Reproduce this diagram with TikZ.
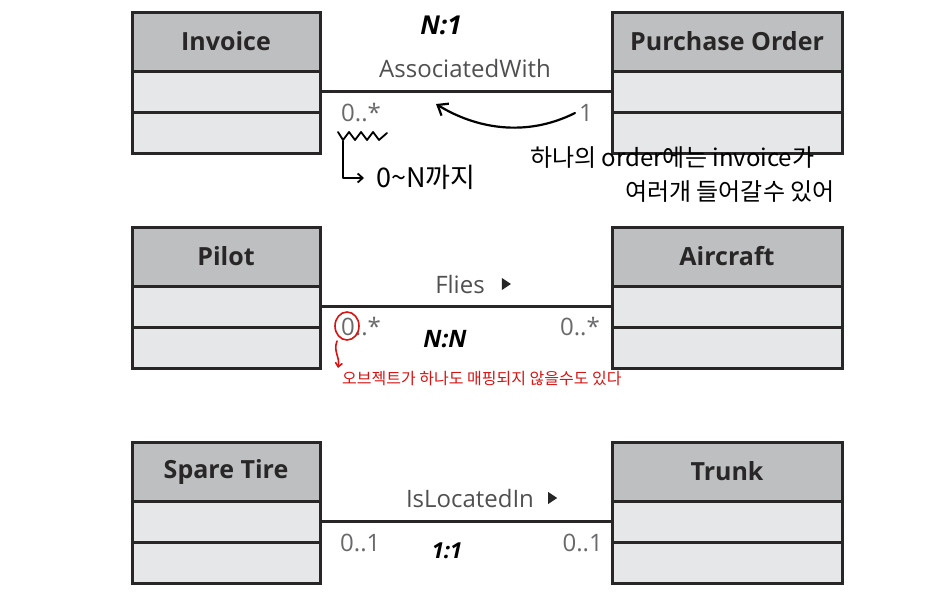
\documentclass[tikz,border=0pt]{standalone}
\usepackage{fontspec}
\setmainfont{Open Sans}
\newfontfamily\kor{Noto Sans CJK KR}
\usetikzlibrary{arrows.meta}
\definecolor{hdrfill}{RGB}{190,191,193}
\definecolor{cmpfill}{RGB}{230,231,232}
\definecolor{border}{RGB}{40,38,39}
\definecolor{lblgray}{RGB}{80,80,82}
\definecolor{multgray}{RGB}{105,105,108}
\definecolor{penred}{RGB}{215,20,20}
\tikzset{
  hdr/.style={draw=border, fill=hdrfill, line width=3pt, outer sep=0pt, inner sep=0pt,
    font=\fontsize{25}{29}\selectfont\bfseries, text=border, minimum height=59pt},
  cmp/.style={draw=border, fill=cmpfill, line width=3pt, outer sep=0pt, inner sep=0pt,
    minimum height=41pt},
  leftw/.style={minimum width=188pt},
  rightw/.style={minimum width=230pt},
  assoc/.style={draw=border, line width=2.6pt},
  lbl/.style={font=\fontsize{24}{28}\selectfont, text=lblgray, inner sep=0pt},
  mult/.style={font=\fontsize{24}{28}\selectfont, text=multgray, inner sep=0pt},
  hand/.style={font=\kor\fontsize{24}{28}\selectfont, text=black, inner sep=0pt},
  redhand/.style={font=\kor\fontsize{16}{20}\selectfont, text=penred, inner sep=0pt},
  ink/.style={line width=2.2pt, line cap=round, line join=round},
  tri/.style={fill=black!85}
}
\begin{document}
\begin{tikzpicture}[x=1pt, y=-1pt]
\useasboundingbox (0,0) rectangle (941,597);
\fill[white] (0,0) rectangle (941,597);

% ---------- Row 1 ----------
\node[hdr, leftw, anchor=north west] (inv) at (132,12) {Invoice};
\node[cmp, leftw, anchor=north] (inv1) at (inv.south) {};
\node[cmp, leftw, anchor=north] (inv2) at (inv1.south) {};
\node[hdr, rightw, anchor=north west] (po) at (612,12) {Purchase Order};
\node[cmp, rightw, anchor=north] (po1) at (po.south) {};
\node[cmp, rightw, anchor=north] (po2) at (po1.south) {};
\draw[assoc] (inv1.east) -- (po1.west);
\node[lbl] (l1) at (465,68) {AssociatedWith};
\node[mult, anchor=west] (m1a) at (341,113) {0..*};
\node[mult, anchor=east] (m1b) at (593,113) {1};

% ---------- Row 2 ----------
\node[hdr, leftw, anchor=north west] (pil) at (132,227) {Pilot};
\node[cmp, leftw, anchor=north] (pil1) at (pil.south) {};
\node[cmp, leftw, anchor=north] (pil2) at (pil1.south) {};
\node[hdr, rightw, anchor=north west] (air) at (612,227) {Aircraft};
\node[cmp, rightw, anchor=north] (air1) at (air.south) {};
\node[cmp, rightw, anchor=north] (air2) at (air1.south) {};
\draw[assoc] (pil1.east) -- (air1.west);
\node[lbl] (l2) at (460,284) {Flies};
\fill[tri] ([xshift=17pt,yshift=6pt]l2.east) -- ++(9,6) -- ++(-9,6) -- cycle;
\node[mult, anchor=west] (m2a) at (341,327) {0..*};
\node[mult, anchor=east] (m2b) at (600,327) {0..*};

% ---------- Row 3 ----------
\node[hdr, leftw, anchor=north west] (st) at (132,442) {Spare Tire};
\node[cmp, leftw, anchor=north] (st1) at (st.south) {};
\node[cmp, leftw, anchor=north] (st2) at (st1.south) {};
\node[hdr, rightw, anchor=north west] (tr) at (612,442) {Trunk};
\node[cmp, rightw, anchor=north] (tr1) at (tr.south) {};
\node[cmp, rightw, anchor=north] (tr2) at (tr1.south) {};
\draw[assoc] (st1.east) -- (tr1.west);
\node[lbl] (l3) at (470,498) {IsLocatedIn};
\fill[tri] ([xshift=14pt,yshift=6pt]l3.east) -- ++(9,6) -- ++(-9,6) -- cycle;
\node[mult, anchor=west] (m3a) at (340,543) {0..1};
\node[mult, anchor=east] (m3b) at (603,543) {0..1};

% ---------- black handwritten notes ----------
\node[font=\fontsize{26}{30}\selectfont\itshape\bfseries, inner sep=0pt] (n1) at (441,25) {N:1};
\node[font=\fontsize{24}{28}\selectfont\itshape\bfseries, inner sep=0pt] (nn) at (445,339) {N:N};
\node[font=\fontsize{22}{26}\selectfont\itshape\bfseries, inner sep=0pt] (oo) at (447,551) {1:1};

\coordinate (cs) at (575,113);
\coordinate (ce) at (436,104);
\draw[ink, -{Straight Barb[length=9pt,width=14pt]}] (cs) .. controls (525,138) and (475,128) .. (ce);

\draw[ink, line width=1.8pt] (338,132) -- (343,140) -- (349,132) -- (355,140) -- (361,132) -- (367,140) -- (373,132) -- (379,140) -- (387,133);
\coordinate (bk1) at (343,141);
\coordinate (bk2) at (364,178);
\draw[ink, line width=1.8pt, -{Straight Barb[length=5pt,width=9pt]}] (bk1) |- (bk2);
\node[hand, anchor=west, font=\kor\fontsize{27}{31}\selectfont] (zn) at (376,177) {0\textasciitilde N까지};

\node[hand, anchor=west] (k1) at (530,158) {하나의 order에는 invoice가};
\node[hand, anchor=west] (k2) at (625,192) {여러개 들어갈수 있어};

% ---------- red notes ----------
\draw[penred, line width=1.6pt] (347,326) ellipse (12pt and 14pt);
\coordinate (ra) at (337,341);
\coordinate (rb) at (338,368);
\draw[penred, line width=1.6pt, line cap=round, -{Straight Barb[length=4pt,width=7pt]}] (ra) .. controls (333,352) and (340,356) .. (rb);
\node[redhand, anchor=west] (rt) at (342,379) {오브젝트가 하나도 매핑되지 않을수도 있다};
\end{tikzpicture}
\end{document}
